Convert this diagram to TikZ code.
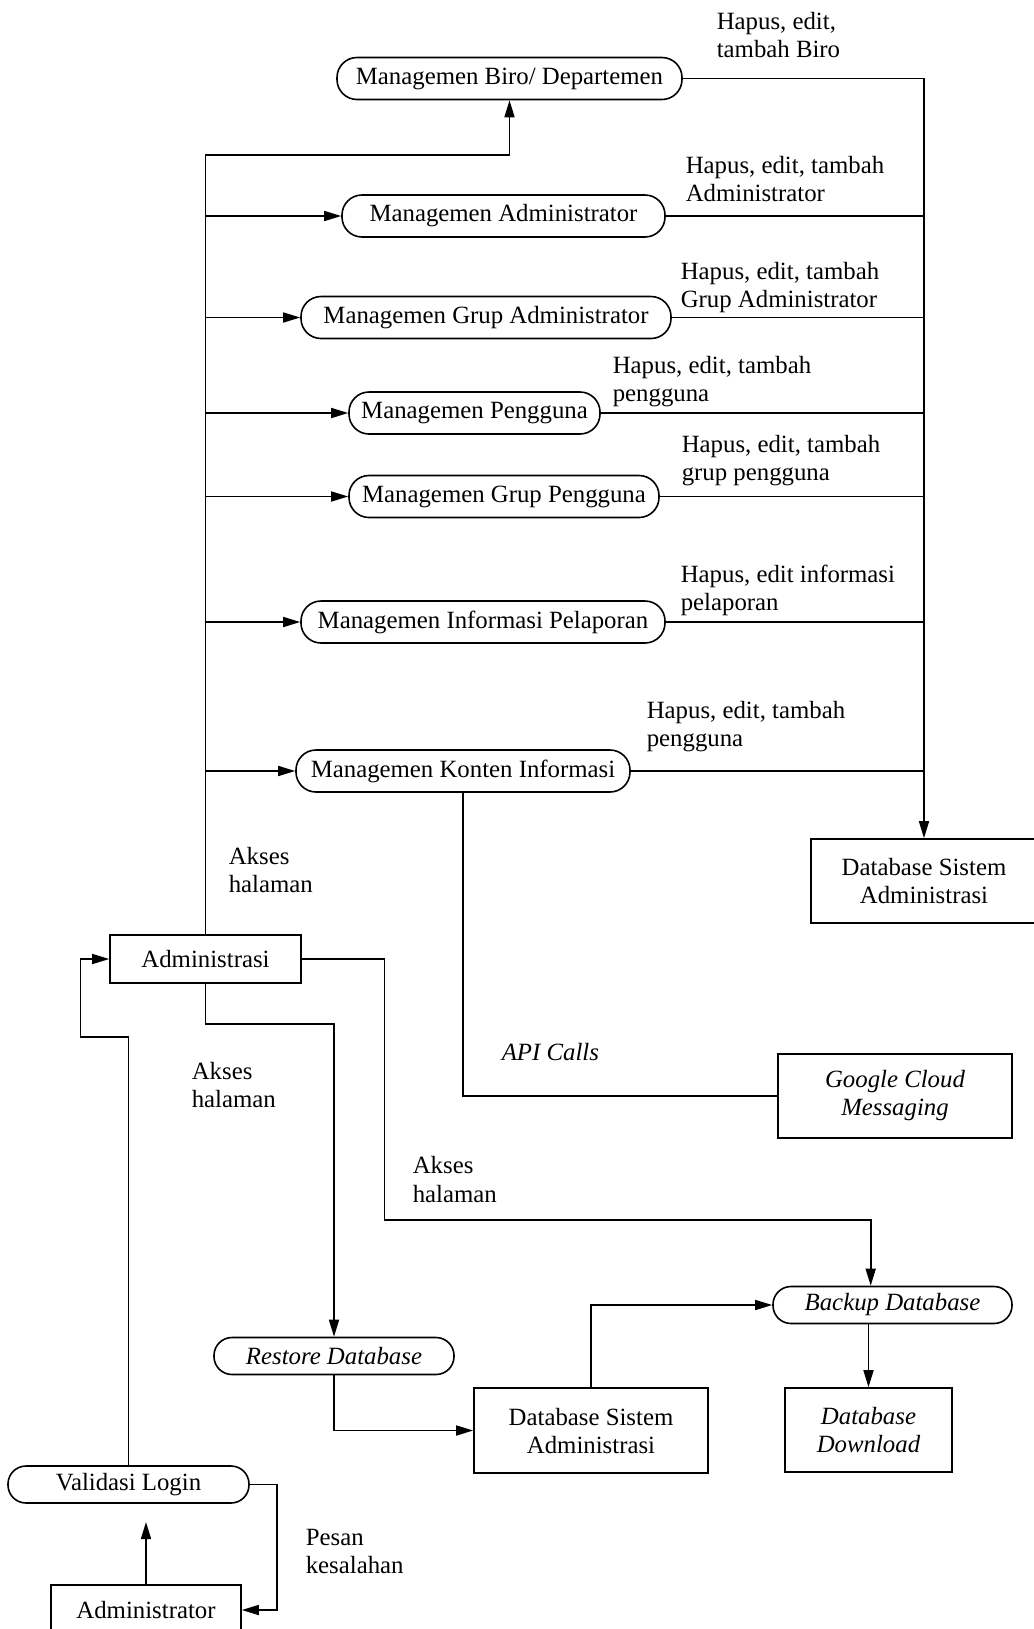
\documentclass[tikz,border=0pt]{standalone}
\usepackage{fontspec}
\setmainfont{Liberation Serif}
\usetikzlibrary{arrows.meta,calc}

\begin{document}
\begin{tikzpicture}[x=0.5pt,y=-0.5pt,
  font=\fontsize{12.4}{14}\selectfont,
  line width=0.8pt,
  ital/.style={font=\fontsize{12.4}{14}\selectfont\itshape},
  proc/.style={draw, rounded corners=10pt, minimum height=21pt, inner sep=0pt},
  proclow/.style={draw, rounded corners=9pt, minimum height=18.5pt, inner sep=0pt},
  store/.style={draw, inner sep=0pt, align=center},
  note/.style={anchor=west, align=left, inner sep=0pt},
  flow/.style={-{Triangle[length=8.5pt,width=5pt]}},
]
\useasboundingbox (0,0) rectangle (1034,1629);
\clip (0,0) rectangle (1034,1629);

% management processes
\node[proc, minimum width=172.5pt] (biro)    at (509.5,78.5) {Managemen Biro/ Departemen};
\node[proc, minimum width=161.5pt] (madm)    at (503.5,216)  {Managemen Administrator};
\node[proc, minimum width=185pt]   (mgadm)   at (486,317.5)  {Managemen Grup Administrator};
\node[proc, minimum width=125.5pt] (mpeng)   at (474.5,413)  {Managemen Pengguna};
\node[proc, minimum width=155pt]   (mgpeng)  at (504,496.5)  {Managemen Grup Pengguna};
\node[proc, minimum width=182pt]   (mlapor)  at (483,622)    {Managemen Informasi Pelaporan};
\node[proc, minimum width=167pt]   (mkonten) at (463,771)    {Managemen Konten Informasi};

% stores and actors
\node[store, minimum width=113pt, minimum height=42pt]   (dbadm) at (924,881)    {Database Sistem\\Administrasi};
\node[store, minimum width=95.5pt, minimum height=24pt]  (adm)   at (205.5,959)  {Administrasi};
\node[store, ital, minimum width=117pt, minimum height=42pt] (gcm) at (895,1096) {Google Cloud\\Messaging};
\node[proclow, ital, minimum width=119.5pt] (backup)  at (892.5,1305) {Backup Database};
\node[proclow, ital, minimum width=120pt]   (restore) at (334,1356)   {Restore Database};
\node[store, minimum width=117pt, minimum height=42.5pt] (dbsys) at (591,1430.5) {Database Sistem\\Administrasi};
\node[store, ital, minimum width=83.5pt, minimum height=42pt] (dl) at (868.5,1430) {Database\\Download};
\node[proclow, minimum width=120.5pt] (val) at (128.5,1484.5) {Validasi Login};
\node[store, minimum width=95pt, minimum height=25pt] (admr) at (146,1610) {Administrator};

% labels
\node[note] (lbiro)    at (716,35)    {Hapus, edit,\\tambah Biro};
\node[note] (lmadm)    at (685,179.5) {Hapus, edit, tambah\\Administrator};
\node[note] (lmgadm)   at (680,287.5) {Hapus, edit, tambah\\Grup Administrator};
\node[note] (lmpeng)   at (612,381.5) {Hapus, edit, tambah\\pengguna};
\node[note] (lmgpeng)  at (681,461)   {Hapus, edit, tambah\\grup pengguna};
\node[note] (lmlapor)  at (680,590)   {Hapus, edit informasi\\pelaporan};
\node[note] (lmkonten) at (646,727)   {Hapus, edit, tambah\\pengguna};
\node[note] (akses1)   at (228,870)   {Akses\\halaman};
\node[note, ital] (api) at (501,1052) {API Calls};
\node[note] (akses2)   at (191,1085)  {Akses\\halaman};
\node[note] (akses3)   at (412,1179.5) {Akses\\halaman};
\node[note] (pesan)    at (305,1551)  {Pesan\\kesalahan};

% page access trunk
\coordinate (trunk) at (206,155);
\draw[flow] (adm.north) -- (adm.north |- trunk) -| (biro.south);
\foreach \n in {madm,mgadm,mpeng,mgpeng,mlapor,mkonten}
  \draw[flow] (adm.north |- \n.west) -- (\n.west);

% data bus to the database
\draw[flow] (biro.east) -| (dbadm.north);
\foreach \n in {madm,mgadm,mpeng,mgpeng,mlapor,mkonten}
  \draw (\n.east) -- (\n.east -| dbadm.north);

% push messages
\draw (mkonten.south) |- (gcm.west);

% backup and restore
\coordinate (bkbend) at (384.6,1220);
\coordinate (bkin) at (870.7,1287);
\draw[flow] (adm.east) -| (bkbend) -| (backup.north -| bkin);
\coordinate (rsbend) at (334,1024);
\draw[flow] (adm.south) |- (rsbend) -- (restore.north);
\draw[flow] (restore.south) |- (dbsys.west);
\draw[flow] (dbsys.north) |- (backup.west);
\draw[flow] (backup.south -| dl.north) -- (dl.north);

% login
\coordinate (vbend) at (80.5,1037);
\draw[flow] (val.north) |- (vbend) |- (adm.west);
\coordinate (ebend) at (277,1484.5);
\draw[flow] (val.east) -- (ebend) |- (admr.east);
\coordinate (upend) at (146,1522);
\draw[flow] (admr.north) -- (upend);
\end{tikzpicture}
\end{document}
